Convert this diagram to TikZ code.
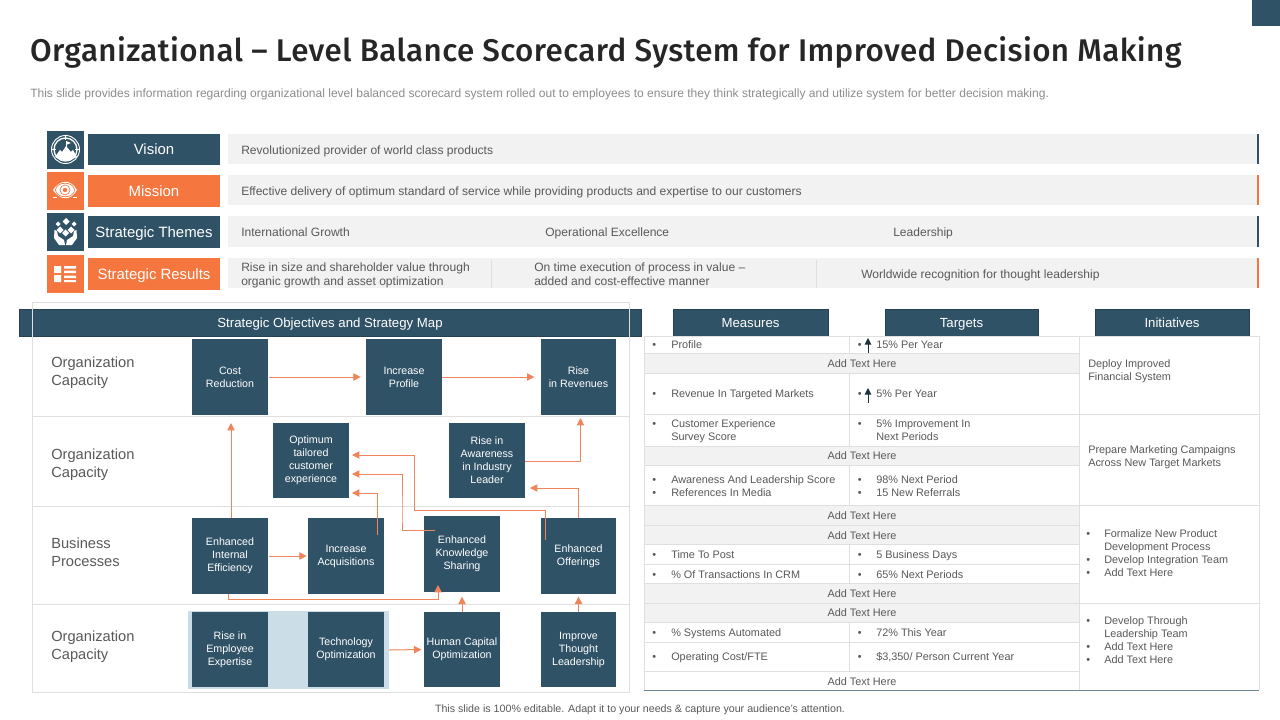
\documentclass[tikz,border=0pt]{standalone}
\usepackage{fontspec}
\setmainfont{Liberation Sans}
\newfontfamily\titlefont[LetterSpace=1.3]{Fira Sans Medium}
\usetikzlibrary{arrows.meta,calc}
\definecolor{navy}{HTML}{2F5266}
\definecolor{orange}{HTML}{F5773F}
\definecolor{arrowc}{HTML}{F0845A}
\definecolor{barg}{HTML}{F2F2F2}
\definecolor{lineg}{HTML}{DEDFDF}
\definecolor{paleb}{HTML}{CBDDE7}
\definecolor{txt}{HTML}{595959}
\newcounter{tc}
\newcommand\tx[4][body]{\stepcounter{tc}\node[#1] (t\arabic{tc}) at (#2,#3) {#4};}
\newcommand\bx[7][navybox]{\pgfmathsetmacro\bxcx{(#3+#5)/2}\pgfmathsetmacro\bxcy{(#4+#6)/2}\pgfmathsetmacro\bxw{(#5-#3)*0.75}\pgfmathsetmacro\bxh{(#6-#4)*0.75}\node[#1,minimum width=\bxw pt,minimum height=\bxh pt] (#2) at (\bxcx,\bxcy) {#7};}
\tikzset{
 x=0.75pt,y=-0.75pt,
 body/.style={anchor=mid west,inner sep=0pt,yshift=-0.75pt,text=txt,font=\fontsize{8.15}{9.75}\selectfont},
 barbody/.style={body,font=\fontsize{9.04}{10.5}\selectfont},
 bodyc/.style={body,anchor=mid},
 plain/.style={inner sep=0pt,outer sep=0pt},
 navybox/.style={plain,fill=navy,text=white,align=center,font=\fontsize{8}{9.75}\selectfont},
 navylow/.style={navybox,execute at begin node={\vspace*{1.5pt}}},
 navylower/.style={navybox,execute at begin node={\vspace*{3pt}}},
 lab/.style={plain,text=white,align=center,text height=8.5pt,text depth=0.5pt,font=\fontsize{11.2}{13}\selectfont},
 head/.style={plain,fill=navy,draw=navy!80!black,line width=0.5pt,text=white,text height=7.4pt,text depth=0.6pt,font=\fontsize{9.9}{11}\selectfont},
 rowlab/.style={anchor=west,inner sep=0pt,font=\fontsize{11}{13.5}\selectfont,align=left,text=txt},
 flow/.style={draw=arrowc,line width=0.75pt,-{Triangle[length=5.5pt,width=5.5pt]}},
 tline/.style={draw=lineg,line width=0.75pt},
}
\begin{document}
\begin{tikzpicture}
\useasboundingbox (0,0) rectangle (1280,720);
\fill[white] (0,0) rectangle (1280,720);
\bx[plain,fill=navy]{corner}{1252}{0}{1280}{26}{}
% title
\tx[plain,anchor=base west,text=black!85,font=\titlefont\fontsize{23.5}{28}\selectfont]{30}{62}{Organizational – Level Balance Scorecard System for Improved Decision Making}
\tx[body,text=black!45,font=\fontsize{9.02}{10}\selectfont]{30}{92.5}{This slide provides information regarding organizational level balanced scorecard system rolled out to employees to ensure they think strategically and utilize system for better decision making.}
% top bars
\bx[plain,fill=barg]{bar1}{228}{134}{1259}{164}{}
\bx[plain,fill=barg]{bar2}{228}{175}{1259}{205}{}
\bx[plain,fill=barg]{bar3}{228}{216}{1259}{247}{}
\bx[plain,fill=barg]{bar4}{228}{258}{1259}{288}{}
\fill[navy] (1257,134) rectangle (1259,164);
\fill[orange] (1257,175) rectangle (1259,205);
\fill[navy] (1257,216) rectangle (1259,247);
\fill[orange] (1257,258) rectangle (1259,288);
\draw[draw=lineg,line width=0.75pt] (491,260) -- (491,288) (816,260) -- (816,288);
\bx[plain,fill=navy]{ic1}{47}{131}{84}{169}{}
\bx[plain,fill=orange]{ic2}{47}{172}{84}{210}{}
\bx[plain,fill=navy]{ic3}{47}{213}{84}{251}{}
\bx[plain,fill=orange]{ic4}{47}{255}{84}{293}{}
\bx[lab,fill=navy]{l1}{88}{134}{220}{165}{Vision}
\bx[lab,fill=orange]{l2}{88}{175}{220}{207}{Mission}
\bx[lab,fill=navy]{l3}{88}{216}{220}{248}{Strategic Themes}
\bx[lab,fill=orange]{l4}{88}{258}{220}{290}{Strategic Results}
% icon 1
\draw[white,line width=1pt] (65.5,149.5) circle (11.5);
\draw[white,line width=0.7pt] (65.5,149.5) circle (14);
\draw[navy,line width=1.2pt] (51,149.5)--(55,149.5) (76,149.5)--(80,149.5) (65.5,135)--(65.5,139);
\draw[white,line width=1pt] (51,149.5)--(56,149.5) (75,149.5)--(80,149.5) (65.5,135)--(65.5,140);
\fill[white] (55,157) -- (60,150) -- (62,152) -- (66,146) -- (71,152) -- (73,150) -- (77,157) -- (70,160) -- (61,160) -- cycle;
\draw[white,line width=0.7pt] (66,147) -- (66,141);
\fill[white] (66,141) -- (71,143) -- (66,145) -- cycle;
% icon 2
\fill[white] (53,190) .. controls (60,179) and (71,179) .. (77,190) .. controls (71,201) and (60,201) .. (53,190) -- cycle;
\draw[orange,line width=0.5pt] (65,190) ellipse (9.5 and 6.8);
\draw[orange,line width=0.5pt] (65,190) circle (5);
\fill[orange] (65,190) circle (2.2);
\draw[white,line width=0.6pt] (53,197)--(57,197) (73,197)--(77,197);
% icon 3
\foreach \sx/\sy/\sr in {66/221.5/3.5,58/224/2.5,74/224/2.5,60/230/3.5,71/230/3.5,65.5/233/3.5}{\fill[white] (\sx-\sr,\sy) -- (\sx,\sy-\sr) -- (\sx+\sr,\sy) -- (\sx,\sy+\sr) -- cycle;}
\fill[white] (54.5,230) -- (57,231) -- (58,236) -- (64,240) -- (65,245) -- (59,245) -- (54,238) -- cycle;
\fill[white] (76.5,230) -- (74,231) -- (73,236) -- (67,240) -- (66,245) -- (72,245) -- (77,238) -- cycle;
% icon 4
\fill[white] (54,266) rectangle (61,273) (54,275) rectangle (61,282);
\fill[white] (64,266) rectangle (76,268.5) (64,270.5) rectangle (76,273) (64,275.5) rectangle (76,278) (64,280) rectangle (76,282);
% bar text
\tx[barbody]{241}{149.5}{Revolutionized provider of world class products}
\tx[barbody]{241}{190.5}{Effective delivery of optimum standard of service while providing products and expertise to our customers}
\tx[barbody]{241}{231.5}{International Growth}
\tx[barbody]{545}{231.5}{Operational Excellence}
\tx[barbody]{893}{231.5}{Leadership}
\tx[barbody]{241}{266.5}{Rise in size and shareholder value through}
\tx[barbody]{241}{280.5}{organic growth and asset optimization}
\tx[barbody]{534}{266.5}{On time execution of process in value –}
\tx[barbody]{534}{280.5}{added and cost-effective manner}
\tx[barbody]{861}{273.5}{Worldwide recognition for thought leadership}
% headers
\bx[head]{hmain}{19}{309}{641}{336}{Strategic Objectives and Strategy Map}
\bx[head]{hmeas}{673}{309}{828}{336}{Measures}
\bx[head]{htarg}{885}{309}{1038}{336}{Targets}
\bx[head]{hinit}{1095}{309}{1249}{336}{Initiatives}
% left frame
\draw[tline] (32,302) rectangle (629,692);
\draw[tline] (32,416) -- (629,416) (32,506) -- (629,506) (32,604) -- (629,604);
\tx[rowlab]{51}{372.5}{Organization\\Capacity}
\tx[rowlab]{51}{464.5}{Organization\\Capacity}
\tx[rowlab]{51}{552.5}{Business\\Processes}
\tx[rowlab]{51}{646.5}{Organization\\Capacity}
\bx[plain,fill=paleb]{pale}{188}{611}{389}{689}{}
\bx{cost}{192}{339}{268}{415}{Cost\\Reduction}
\bx{profile}{366}{339}{442}{415}{Increase\\Profile}
\bx{revenue}{541}{339}{616}{415}{Rise\\in Revenues}
\bx[navylower]{optimum}{273}{423}{349}{498}{Optimum\\tailored\\customer\\experience}
\bx[navylower]{aware}{449}{423}{525}{498}{Rise in\\Awareness\\in Industry\\Leader}
\bx[navylower]{internal}{192}{518}{268}{594}{Enhanced\\Internal\\Efficiency}
\bx[navylow]{acq}{308}{518}{384}{594}{Increase\\Acquisitions}
\bx[navylower]{know}{424}{516}{500}{592}{Enhanced\\Knowledge\\Sharing}
\bx[navylow]{offer}{541}{518}{616}{594}{Enhanced\\Offerings}
\bx[navylow]{expert}{192}{612}{268}{687}{Rise in\\Employee\\Expertise}
\bx[navylower]{tech}{308}{612}{384}{687}{Technology\\Optimization}
\bx[navylower]{human}{424}{612}{500}{687}{Human Capital\\Optimization}
\bx[navylow]{lead}{541}{612}{616}{687}{Improve\\Thought\\Leadership}
% connectors
\draw[flow,shorten <=1pt,shorten >=4pt] (cost.east) -- (profile.west);
\draw[flow,shorten >=5pt] (profile.east) -- (revenue.west);
\draw[flow,shorten <=1pt,shorten >=1pt] (internal.east) -- (acq.west);
\draw[flow,shorten >=2pt] (pale.east) -- (human.west);
\draw[flow,shorten >=3pt] ([xshift=0.75pt]internal.north) -- ([xshift=0.75pt,yshift=-3pt]cost.south);
\draw[flow] ([shift={(-7,17)}]acq.north east) |- ([shift={(3,32.5)}]optimum.east);
\draw[flow] ([shift={(11,14)}]know.north west) -| ([shift={(-22,0)}]know.north west) |- ([shift={(3,13.5)}]optimum.east);
\draw[flow] ([shift={(4,22)}]offer.north west) |- ([shift={(-10,-6)}]know.north west) |- ([shift={(3,-5.5)}]optimum.east);
\draw[flow] ([xshift=0pt]offer.north) |- ([shift={(5,27.5)}]aware.east);
\draw[flow] ([yshift=-0.5pt]aware.east) -| ([shift={(2,3)}]revenue.south);
\draw[flow] ([xshift=-1.5pt]internal.south) |- ([shift={(0,7.5)}]know.south west) -| ([shift={(14,-7)}]know.south west);
\draw[flow,shorten >=3.5pt] (human.north) -- (know.south);
\draw[flow,shorten >=2pt] (lead.north) -- (offer.south);
% table
\foreach \a/\b in {354/373,446/465,506/525,525/544,583/603,603/622}{\fill[barg] (645,\a) rectangle (1079,\b);}
\draw[tline] (644,336) -- (644,690) (849,336) -- (849,354) (849,373) -- (849,446) (849,465) -- (849,506) (849,544) -- (849,583) (849,622) -- (849,671) (1079,336) -- (1079,690) (1259,336) -- (1259,690);
\foreach \a in {336,353.5,373,414,446,465,505.5,525,544.5,564,583,603,622,642,671}{\draw[tline] (644,\a) -- (1079,\a);}
\draw[tline] (1079,336) -- (1259,336) (1079,414) -- (1259,414) (1079,505.5) -- (1259,505.5) (1079,603) -- (1259,603);
\draw[draw=navy!70!white,line width=0.9pt] (644,690.5) -- (1259,690.5);
% measures
\foreach \yy/\tt in {344/Profile,393/Revenue In Targeted Markets,423/Customer Experience,479/Awareness And Leadership Score,492/References In Media,554/Time To Post,574/\% Of Transactions In CRM,632/\% Systems Automated,656/Operating Cost\slash FTE}{\tx{671}{\yy}{\tt}}
\foreach \yy in {344,393,423,479,492,554,574,632,656}{\tx{652}{\yy}{•}}
\tx{671}{436}{Survey Score}
% targets
\foreach \yy/\tt in {344/15\% Per Year,393/5\% Per Year,423/5\% Improvement In,436/Next Periods,479/98\% Next Period,492/15 New Referrals,554/5 Business Days,574/65\% Next Periods,632/72\% This Year}{\tx{876}{\yy}{\tt}}
\tx{876}{656}{\$3,350\slash{} Person Current Year}
\foreach \yy in {344,393,423,479,492,554,574,632,656}{\tx{857.5}{\yy}{•}}
\coordinate (up1a) at (868,353); \coordinate (up1b) at (868,338);
\coordinate (up2a) at (868,403); \coordinate (up2b) at (868,388);
\draw[draw=navy!60!black,line width=0.7pt,-{Triangle[length=5pt,width=5pt]}] (up1a) -- (up1b);
\draw[draw=navy!60!black,line width=0.7pt,-{Triangle[length=5pt,width=5pt]}] (up2a) -- (up2b);
% add text here
\foreach \yy in {363,455,515,535,593,612,681}{\tx[bodyc]{862}{\yy}{Add Text Here}}
% initiatives
\tx{1088}{363}{Deploy Improved}
\tx{1088}{376}{Financial System}
\tx{1088}{449}{Prepare Marketing Campaigns}
\tx{1088}{462}{Across New Target Markets}
\tx{1104}{533}{Formalize New Product}
\tx{1104}{546}{Development Process}
\tx{1104}{559}{Develop Integration Team}
\tx{1104}{572}{Add Text Here}
\tx{1104}{620}{Develop Through}
\tx{1104}{633}{Leadership Team}
\tx{1104}{646}{Add Text Here}
\tx{1104}{659}{Add Text Here}
\foreach \yy in {533,559,572,620,646,659}{\tx{1086}{\yy}{•}}
% footer
\tx[bodyc,font=\fontsize{8}{9.75}\selectfont]{640}{707.5}{This slide is 100\% editable. Adapt it to your needs \& capture your audience’s attention.}
\end{tikzpicture}
\end{document}
